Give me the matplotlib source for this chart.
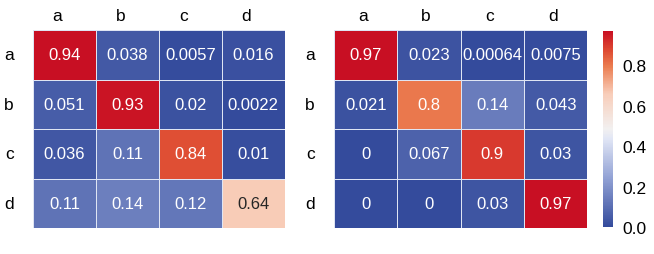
import matplotlib
matplotlib.use('Agg')
import matplotlib.pyplot as plt
import matplotlib.transforms as mtransforms
from matplotlib.colors import LinearSegmentedColormap
import seaborn as sns
import numpy as np

labels = ['a', 'b', 'c', 'd']

# left matrix
left = [
    [0.94, 0.038, 0.0057, 0.016],
    [0.051, 0.93, 0.02, 0.0022],
    [0.036, 0.11, 0.84, 0.01],
    [0.11, 0.14, 0.12, 0.64],
]

# right matrix
right = [
    [0.97, 0.023, 0.00064, 0.0075],
    [0.021, 0.8, 0.14, 0.043],
    [0, 0.067, 0.9, 0.03],
    [0, 0, 0.03, 0.97],
]

cbar_ticks = [0.0, 0.2, 0.4, 0.6, 0.8]

# muted blue-white-red map, similar to coolwarm but duller blues
cmap = LinearSegmentedColormap.from_list('muted_bwr', [
    (0.00, '#344b9c'),
    (0.25, '#92a2d5'),
    (0.45, '#e1e6f5'),
    (0.50, '#f2f0f0'),
    (0.68, '#f8cdb9'),
    (0.82, '#eb7d50'),
    (0.90, '#de4b32'),
    (1.00, '#c80f23'),
])

plt.rcParams['font.family'] = ['Liberation Sans', 'DejaVu Sans']

fig = plt.figure(figsize=(6.54, 2.55), dpi=100)
ax1 = fig.add_axes([0.0505, 0.102, 0.385, 0.776])
ax2 = fig.add_axes([0.511, 0.102, 0.387, 0.776])
cax = fig.add_axes([0.922, 0.106, 0.0153, 0.769])

annot_kws = {'size': 12}

sns.heatmap(np.array(left), ax=ax1, cmap=cmap, vmin=0, annot=True,
            annot_kws=annot_kws, linewidths=0.6, linecolor='#dfe5f3',
            cbar=False, xticklabels=labels, yticklabels=labels)

sns.heatmap(np.array(right), ax=ax2, cmap=cmap, vmin=0, annot=True,
            annot_kws=annot_kws, linewidths=0.6, linecolor='#dfe5f3',
            cbar_ax=cax, xticklabels=labels, yticklabels=labels)

for ax, shift in ((ax1, -7), (ax2, -3)):
    ax.xaxis.tick_top()
    ax.tick_params(axis='x', length=0, labelsize=12.5, pad=5)
    ax.tick_params(axis='y', length=0, labelsize=12.5, pad=14)
    ax.set_xticklabels(labels, rotation=0)
    ax.set_yticklabels(labels, rotation=0)
    off = mtransforms.ScaledTranslation(shift / 100, 0, fig.dpi_scale_trans)
    for lab in ax.get_xticklabels():
        lab.set_transform(lab.get_transform() + off)

cax.set_yticks(cbar_ticks)
cax.tick_params(length=0, labelsize=12.5, pad=7)

plt.savefig('out.png', dpi=100)
